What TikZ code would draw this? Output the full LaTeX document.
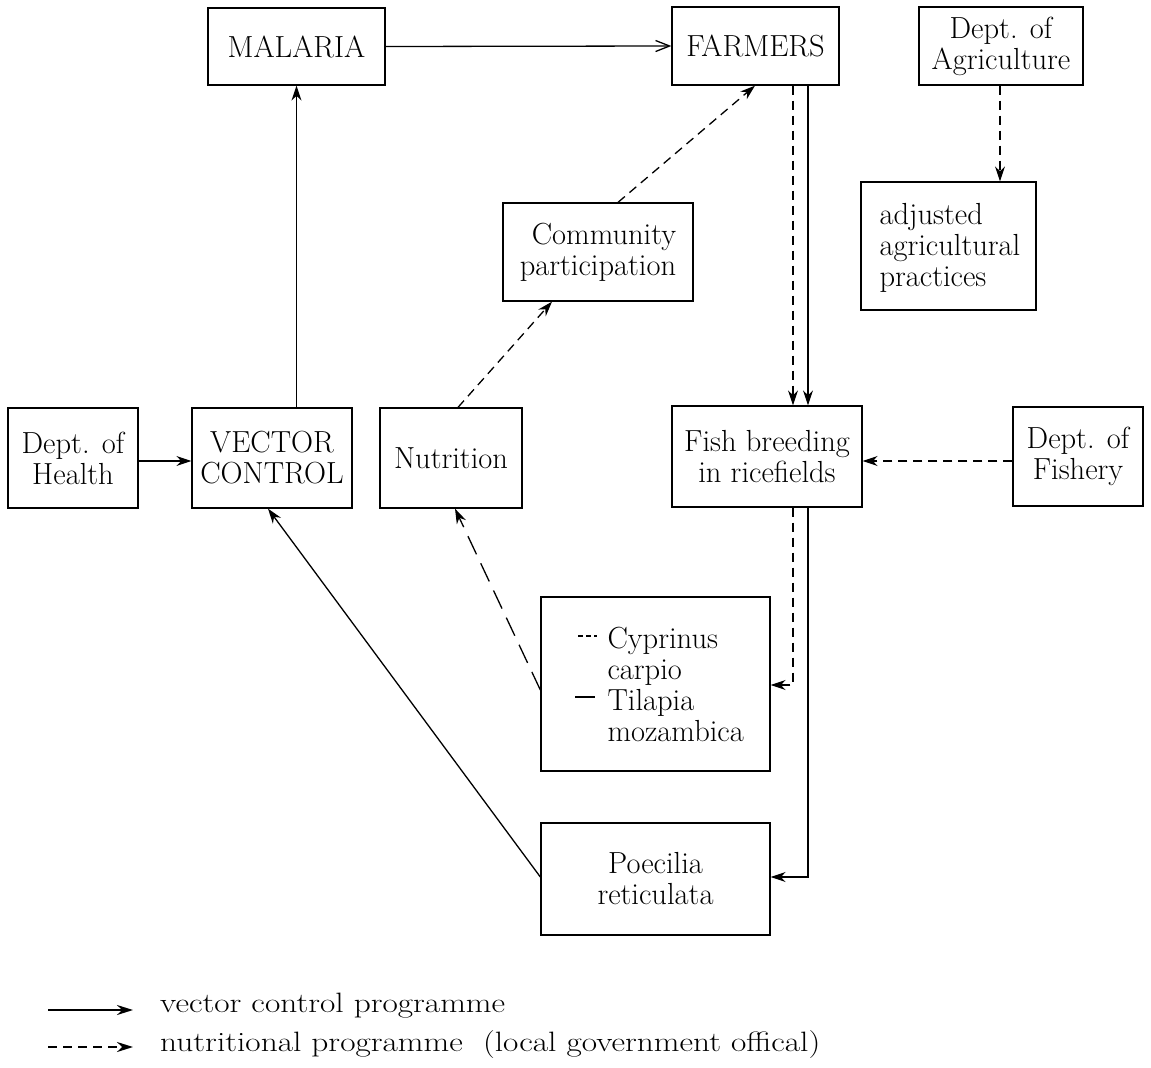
\documentclass[tikz,border=0pt]{standalone}
\usepackage{fontspec}
\usepackage{graphicx}
\usetikzlibrary{arrows.meta}
\begin{document}
\begin{tikzpicture}[x=1pt,y=-1pt,
  every node/.style={font=\fontsize{30.5}{31}\selectfont},
  box/.style={draw,line width=1.3pt,align=center,inner sep=0pt},
  ln/.style={line width=1.3pt},
  dsh/.style={ln,dash pattern=on 9pt off 6pt},
  ldsh/.style={ln,dash pattern=on 20pt off 10pt},
  arr/.style={-{Stealth[length=15pt,width=10pt]}},
  oarr/.style={-{Straight Barb[length=14pt,width=11pt]}},
  legtext/.style={anchor=west,inner sep=0pt,font=\fontsize{28}{30}\selectfont}]
\useasboundingbox (0,0) rectangle (1151,1068);

% boxes
\node[box,minimum width=177pt,minimum height=77pt] (malaria) at (296.5,46.5) {MALARIA};
\node[box,minimum width=167pt,minimum height=78pt] (farmers) at (755.5,46) {FARMERS};
\node[box,minimum width=164pt,minimum height=78pt] (agri) at (1001,46) {Dept. of\\Agriculture};
\node[box,minimum width=175pt,minimum height=128pt] (adj) at (948.5,246) {};
\node[align=left,anchor=west] (adjtext) at (876,248) {adjusted\\agricultural\\practices};
\node[box,minimum width=190pt,minimum height=98pt] (comm) at (598,252) {\hspace*{12pt}Community\\participation};
\node[box,minimum width=130pt,minimum height=100pt] (health) at (73,458) {Dept. of\\Health};
\node[box,minimum width=160pt,minimum height=100pt] (vector) at (272,458) {VECTOR\\CONTROL};
\node[box,minimum width=142pt,minimum height=100pt] (nutr) at (451,458) {Nutrition};
\node[box,minimum width=190pt,minimum height=101pt] (fish) at (767,456.5) {Fish breeding\\in ricefields};
\node[box,minimum width=130pt,minimum height=99pt] (fishery) at (1078,456.5) {Dept. of\\Fishery};
\node[box,minimum width=229pt,minimum height=174pt] (cyp) at (655.5,684) {};
\node[align=left,anchor=west] (cyptext) at (604,684) {Cyprinus\\carpio\\Tilapia\\mozambica};
\node[box,minimum width=229pt,minimum height=112pt] (poec) at (655.5,879) {Poecilia\\reticulata};

% bullets inside the fish box
\draw[ln,dash pattern=on 5pt off 3pt] (578,636) -- (597,636);
\draw[ln] (575,697) -- (595,697);

% connectors
\draw[ln,oarr] (malaria.east) -- (farmers.west);
\draw[ln,arr] (vector.north -| malaria.south) -- (malaria.south);
\draw[ln,arr] (health.east |- 0,461) -- (vector.west |- 0,461);
\draw[dsh,arr] (nutr.north -| 458,0) -- (comm.south -| 552,0);
\draw[dsh,arr] (comm.north -| 618,0) -- (farmers.south -| 755,0);
\draw[dsh,arr] (farmers.south -| 793,0) -- (fish.north -| 793,0);
\draw[ln,arr] (farmers.south -| 808,0) -- (fish.north -| 808,0);
\draw[dsh,arr] (agri.south -| 1000,0) -- (adj.north -| 1000,0);
\draw[dsh,arr] (fishery.west |- 0,461) -- (fish.east |- 0,461);
\draw[dsh,arr] (fish.south -| 793,0) |- (cyp.east |- 0,685);
\draw[ln,arr] (fish.south -| 808,0) |- (poec.east |- 0,877);
\draw[ldsh,arr] (cyp.west |- 0,690) -- (nutr.south -| 455,0);
\draw[ln,arr] (poec.west |- 0,877) -- (vector.south -| 268,0);

% legend
\coordinate (l1a) at (48,1010);
\coordinate (l1b) at (133,1010);
\coordinate (l2a) at (48,1047);
\coordinate (l2b) at (133,1047);
\draw[line width=2.2pt,-{Stealth[length=16pt,width=10pt]}] (l1a) -- (l1b);
\draw[line width=2.2pt,dash pattern=on 9pt off 6pt,-{Stealth[length=16pt,width=10pt]}] (l2a) -- (l2b);
\node[legtext] (leg1) at (160,1006) {\scalebox{1.19}[1]{vector control programme}};
\node[legtext] (leg2) at (160,1045) {\scalebox{1.19}[1]{nutritional programme\ \ (local government offical)}};
\end{tikzpicture}
\end{document}
